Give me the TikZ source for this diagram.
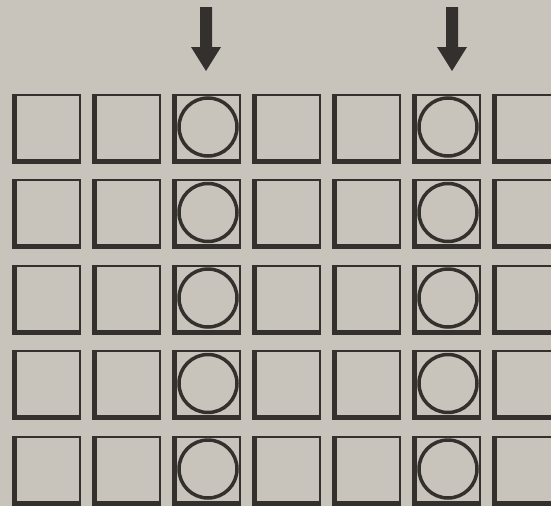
\documentclass[tikz,border=0pt]{standalone}
\usepackage{tikz}
\usepackage{xcolor}

\definecolor{paper}{RGB}{201,196,187}
\definecolor{ink}{RGB}{52,48,46}

\tikzset{
  cell/.style={draw=ink, line width=2pt, minimum width=67pt, minimum height=68pt, inner sep=0pt, outer sep=0pt},
  edge/.style={draw=ink, line width=5pt, line join=miter},
  ring/.style={draw=ink, line width=3.5pt, circle, minimum size=58pt, inner sep=0pt},
  pointer/.style={fill=ink}
}

\begin{document}
\begin{tikzpicture}[x=1pt,y=-1pt]
\fill[paper] (0,0) rectangle (551,506);
\clip (0,0) rectangle (551,506);
% grid of boxes
\foreach \r in {1,...,5} \foreach \c in {1,...,7} {
  \node[cell] (c\r\c) at ({46.5+80*(\c-1)}, {128.5+85.5*(\r-1)}) {};
  \draw[edge] ([xshift=1.5pt]c\r\c.north west) -- ([xshift=1.5pt,yshift=1.5pt]c\r\c.south west) -- ([yshift=1.5pt]c\r\c.south east);
}
% rings in the marked columns
\foreach \r in {1,...,5} \foreach \c in {3,6}
  \node[ring] (o\r\c) at ([xshift=1.5pt,yshift=1.5pt]c\r\c.center) {};
% arrows
\coordinate (tip3) at (206,71);
\coordinate (tip6) at (452,71);
\foreach \t in {tip3,tip6}
  \fill[pointer] (\t) -- ++(-15,-24) -- ++(9,0) -- ++(0,-40) -- ++(12,0) -- ++(0,40) -- ++(9,0) -- cycle;
\end{tikzpicture}
\end{document}
